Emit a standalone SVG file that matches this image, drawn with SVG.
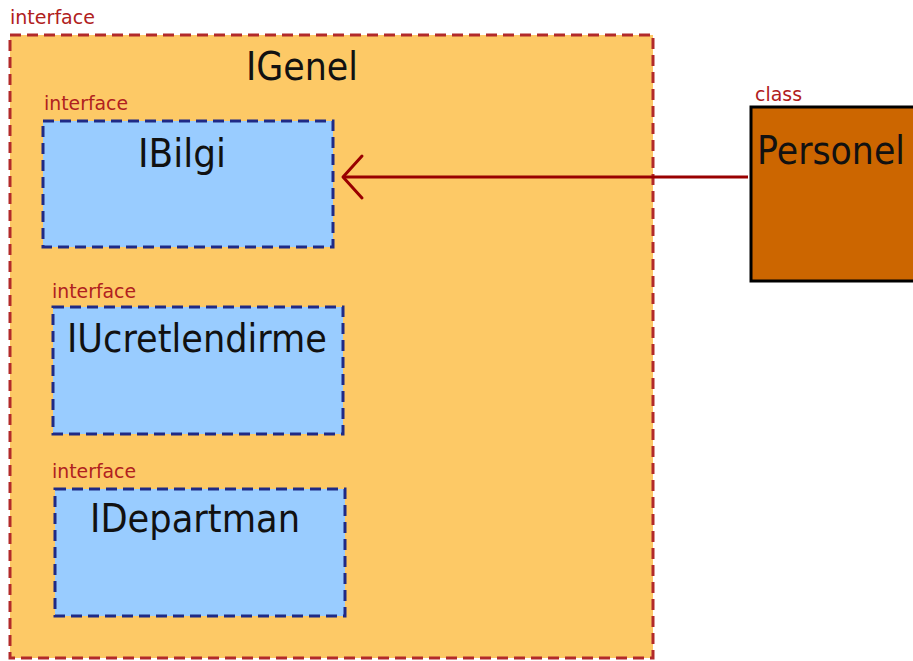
<svg xmlns="http://www.w3.org/2000/svg" width="913" height="661" viewBox="0 0 913 661">
<style>
.stereo{font-family:"DejaVu Sans","Liberation Sans",sans-serif;font-size:19px;fill:#b02020}
.name{font-family:"DejaVu Sans","Liberation Sans",sans-serif;font-size:39px;fill:#111}
.outer{fill:#fdc966;stroke:#b22a2a;stroke-width:3;stroke-dasharray:11 6}
.inner{fill:#99ccff;stroke:#1f2a86;stroke-width:3;stroke-dasharray:11 6}
.cls{fill:#cc6600;stroke:#000;stroke-width:3}
.conn{stroke:#990000;stroke-width:3;fill:none}
</style>
<g id="IGenel">
<rect class="outer" x="10" y="35" width="643" height="623"/>
<text class="stereo" x="10" y="24" textLength="85" lengthAdjust="spacingAndGlyphs">interface</text>
<text class="name" x="246" y="80" textLength="112" lengthAdjust="spacingAndGlyphs">IGenel</text>
</g>
<g id="IBilgi">
<rect class="inner" x="43" y="121" width="290" height="126"/>
<text class="stereo" x="44" y="110" textLength="84" lengthAdjust="spacingAndGlyphs">interface</text>
<text class="name" x="138" y="167" textLength="88" lengthAdjust="spacingAndGlyphs">IBilgi</text>
</g>
<g id="IUcretlendirme">
<rect class="inner" x="53" y="307" width="290" height="127"/>
<text class="stereo" x="52" y="298" textLength="84" lengthAdjust="spacingAndGlyphs">interface</text>
<text class="name" x="67" y="352" textLength="260" lengthAdjust="spacingAndGlyphs">IUcretlendirme</text>
</g>
<g id="IDepartman">
<rect class="inner" x="55" y="489" width="290" height="127"/>
<text class="stereo" x="52" y="478" textLength="84" lengthAdjust="spacingAndGlyphs">interface</text>
<text class="name" x="90" y="532" textLength="210" lengthAdjust="spacingAndGlyphs">IDepartman</text>
</g>
<g id="Personel">
<rect class="cls" x="751" y="107" width="170" height="174"/>
<text class="stereo" x="755" y="101" textLength="47" lengthAdjust="spacingAndGlyphs">class</text>
<text class="name" x="757" y="164" textLength="148" lengthAdjust="spacingAndGlyphs">Personel</text>
</g>
<g id="connectors">
<line class="conn" x1="748" y1="177" x2="344" y2="177"/>
<polyline class="conn" points="362,156 343,177 362,198" stroke-linecap="round" stroke-linejoin="round"/>
</g>
</svg>
